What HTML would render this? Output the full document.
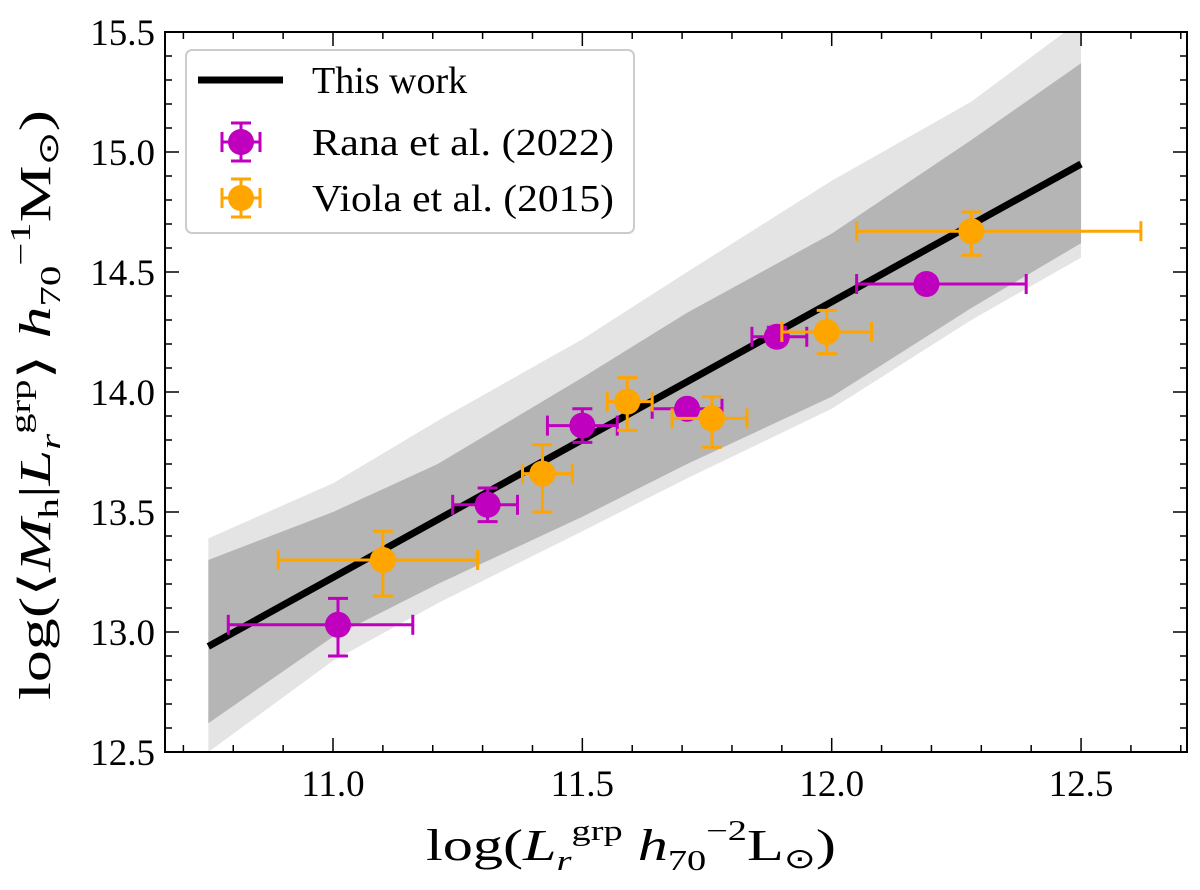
<!DOCTYPE html>
<html><head><meta charset="utf-8"><style>
body{margin:0;background:#fff}
svg text{font-family:"Liberation Serif",serif;fill:#000}
</style></head><body>
<svg id="chart" width="1200" height="885" xmlns="http://www.w3.org/2000/svg"></svg>
<script>
const bandX=[10.75,11.0,11.21,11.5,11.71,12.0,12.28,12.5];
const lightUpper=[13.39,13.62,13.88,14.22,14.50,14.88,15.21,15.55];
const darkUpper=[13.30,13.50,13.70,14.06,14.33,14.66,15.05,15.37];
const darkLower=[12.62,12.98,13.20,13.48,13.70,13.98,14.35,14.62];
const lightLower=[12.50,12.88,13.12,13.42,13.64,13.93,14.30,14.56];
const lineX=[10.75,12.5];
const lineY=[12.94,14.95];
const ranaX=[11.01,11.31,11.50,11.71,11.89,12.19];
const ranaY=[13.03,13.53,13.86,13.93,14.23,14.45];
const ranaXlo=[10.79,11.24,11.43,11.64,11.84,12.05];
const ranaXhi=[11.16,11.37,11.57,11.78,11.95,12.39];
const ranaYlo=[12.90,13.46,13.79,13.90,14.20,14.43];
const ranaYhi=[13.14,13.60,13.93,13.96,14.27,14.47];
const violaX=[11.10,11.42,11.59,11.76,11.99,12.28];
const violaY=[13.30,13.66,13.96,13.89,14.25,14.67];
const violaXlo=[10.89,11.38,11.55,11.68,11.90,12.05];
const violaXhi=[11.29,11.48,11.64,11.83,12.08,12.62];
const violaYlo=[13.15,13.50,13.84,13.77,14.16,14.57];
const violaYhi=[13.42,13.78,14.06,13.98,14.34,14.75];
const xTicks=[11.0,11.5,12.0,12.5];
const xTickLabels=["11.0","11.5","12.0","12.5"];
const yTicks=[12.5,13.0,13.5,14.0,14.5,15.0,15.5];
const yTickLabels=["12.5","13.0","13.5","14.0","14.5","15.0","15.5"];

const L=165,R=1187,T=32,B=752;
const X=v=>333+(v-11.0)*498.7;
const Y=v=>752-(v-12.5)*240;
const svg=document.getElementById('chart');
const NS='http://www.w3.org/2000/svg';
function mk(tag,attrs,parent){const e=document.createElementNS(NS,tag);for(const k in attrs)e.setAttribute(k,attrs[k]);(parent||svg).appendChild(e);return e;}

const clip=mk('clipPath',{id:'c'});mk('rect',{x:L,y:T,width:R-L,height:B-T},clip);
function band(up,lo,fill,name){
  let d='M'+bandX.map((x,i)=>X(x)+','+Y(up[i])).join('L');
  for(let i=bandX.length-1;i>=0;i--)d+='L'+X(bandX[i])+','+Y(lo[i]);
  const p=mk('path',{d:d+'Z',fill:fill,'clip-path':'url(#c)'});
  
  
}
band(lightUpper,lightLower,'#e4e4e4','outer-band');
band(darkUpper,darkLower,'#b5b5b5','inner-band');
const ln=mk('line',{x1:X(lineX[0]),y1:Y(lineY[0]),x2:X(lineX[1]),y2:Y(lineY[1]),stroke:'#000','stroke-width':7});



function series(xs,ys,xl,xh,yl,yh,col,name){
  const g=mk('g',{});
  
  
  xs.forEach((x,i)=>{
    const cx=X(x),cy=Y(ys[i]);
    mk('line',{x1:X(xl[i]),x2:X(xh[i]),y1:cy,y2:cy,stroke:col,'stroke-width':3},g);
    mk('line',{x1:X(xl[i]),x2:X(xl[i]),y1:cy-10,y2:cy+10,stroke:col,'stroke-width':3},g);
    mk('line',{x1:X(xh[i]),x2:X(xh[i]),y1:cy-10,y2:cy+10,stroke:col,'stroke-width':3},g);
    mk('line',{x1:cx,x2:cx,y1:Y(yl[i]),y2:Y(yh[i]),stroke:col,'stroke-width':3},g);
    mk('line',{x1:cx-10,x2:cx+10,y1:Y(yl[i]),y2:Y(yl[i]),stroke:col,'stroke-width':3},g);
    mk('line',{x1:cx-10,x2:cx+10,y1:Y(yh[i]),y2:Y(yh[i]),stroke:col,'stroke-width':3},g);
    const c=mk('circle',{cx:cx,cy:cy,r:13,fill:col},g);
    
    
  });
}
series(ranaX,ranaY,ranaXlo,ranaXhi,ranaYlo,ranaYhi,'#bf00bf','rana-series');
series(violaX,violaY,violaXlo,violaXhi,violaYlo,violaYhi,'#ffa500','viola-series');

const fr=mk('rect',{x:L,y:T,width:R-L,height:B-T,fill:'none',stroke:'#000','stroke-width':2});


for(let v=10.7;v<=12.71;v+=0.1){const x=X(v);const maj=Math.abs(v*2-Math.round(v*2))<1e-6;const len=maj?14:7;
 mk('line',{x1:x,x2:x,y1:B,y2:B-len,stroke:'#000','stroke-width':1.5});
 mk('line',{x1:x,x2:x,y1:T,y2:T+len,stroke:'#000','stroke-width':1.5});}
for(let v=12.5;v<=15.51;v+=0.1){const y=Y(v);const maj=Math.abs(v*2-Math.round(v*2))<1e-6;const len=maj?14:7;
 mk('line',{x1:L,x2:L+len,y1:y,y2:y,stroke:'#000','stroke-width':1.5});
 mk('line',{x1:R,x2:R-len,y1:y,y2:y,stroke:'#000','stroke-width':1.5});}
xTicks.forEach((v,i)=>{const t=mk('text',{x:X(v),y:B+44,'font-size':37,'text-anchor':'middle'});t.textContent=xTickLabels[i];
 });
yTicks.forEach((v,i)=>{const t=mk('text',{x:L-10,y:Y(v)+13,'font-size':37,'text-anchor':'end'});t.textContent=yTickLabels[i];
 });
</script>
<svg style="position:absolute;left:0;top:0" width="1200" height="885" xmlns="http://www.w3.org/2000/svg">
<g>
<text x="426" y="860" font-size="44" textLength="410" lengthAdjust="spacingAndGlyphs">log(<tspan font-style="italic">L</tspan><tspan font-size="28" dy="10" font-style="italic">r</tspan><tspan font-size="28" dy="-30">grp</tspan><tspan dy="20"> </tspan><tspan font-style="italic">h</tspan><tspan font-size="28" dy="10">70</tspan><tspan font-size="28" dy="-30">−2</tspan><tspan dy="20">L</tspan><tspan font-size="28" dy="8">⊙</tspan><tspan dy="-8">)</tspan></text>
</g>
<g transform="translate(50,700) rotate(-90)">
<text x="0" y="0" font-size="44" textLength="590" lengthAdjust="spacingAndGlyphs">log(⟨<tspan font-style="italic">M</tspan><tspan font-size="28" dy="8">h</tspan><tspan dy="-8">|</tspan><tspan font-style="italic">L</tspan><tspan font-size="28" dy="10" font-style="italic">r</tspan><tspan font-size="28" dy="-30">grp</tspan><tspan dy="20">⟩ </tspan><tspan font-style="italic">h</tspan><tspan font-size="28" dy="10">70</tspan><tspan font-size="28" dy="-30">−1</tspan><tspan dy="20">M</tspan><tspan font-size="28" dy="8">⊙</tspan><tspan dy="-8">)</tspan></text>
</g>
<g>
<rect x="186" y="50" width="448" height="183" rx="6" fill="#fff" fill-opacity="0.85" stroke="#ccc" stroke-width="2"/>
<g>
<line x1="198" y1="80" x2="283" y2="80" stroke="#000" stroke-width="7"/>
<text x="312" y="93" font-size="38">This work</text></g>
<g stroke="#bf00bf" stroke-width="3">
<line x1="222" y1="142" x2="260" y2="142"/><line x1="222" y1="132" x2="222" y2="152"/><line x1="260" y1="132" x2="260" y2="152"/>
<line x1="241" y1="123" x2="241" y2="161"/><line x1="231" y1="123" x2="251" y2="123"/><line x1="231" y1="161" x2="251" y2="161"/>
<circle cx="241" cy="142" r="13" fill="#bf00bf" stroke="none"/>
<text x="312" y="155" font-size="38" stroke="none" textLength="302" lengthAdjust="spacingAndGlyphs">Rana et al. (2022)</text></g>
<g stroke="#ffa500" stroke-width="3">
<line x1="222" y1="198" x2="260" y2="198"/><line x1="222" y1="188" x2="222" y2="208"/><line x1="260" y1="188" x2="260" y2="208"/>
<line x1="241" y1="179" x2="241" y2="217"/><line x1="231" y1="179" x2="251" y2="179"/><line x1="231" y1="217" x2="251" y2="217"/>
<circle cx="241" cy="198" r="13" fill="#ffa500" stroke="none"/>
<text x="312" y="211" font-size="38" stroke="none" textLength="302" lengthAdjust="spacingAndGlyphs">Viola et al. (2015)</text></g>
</g>
</svg>
</body></html>
